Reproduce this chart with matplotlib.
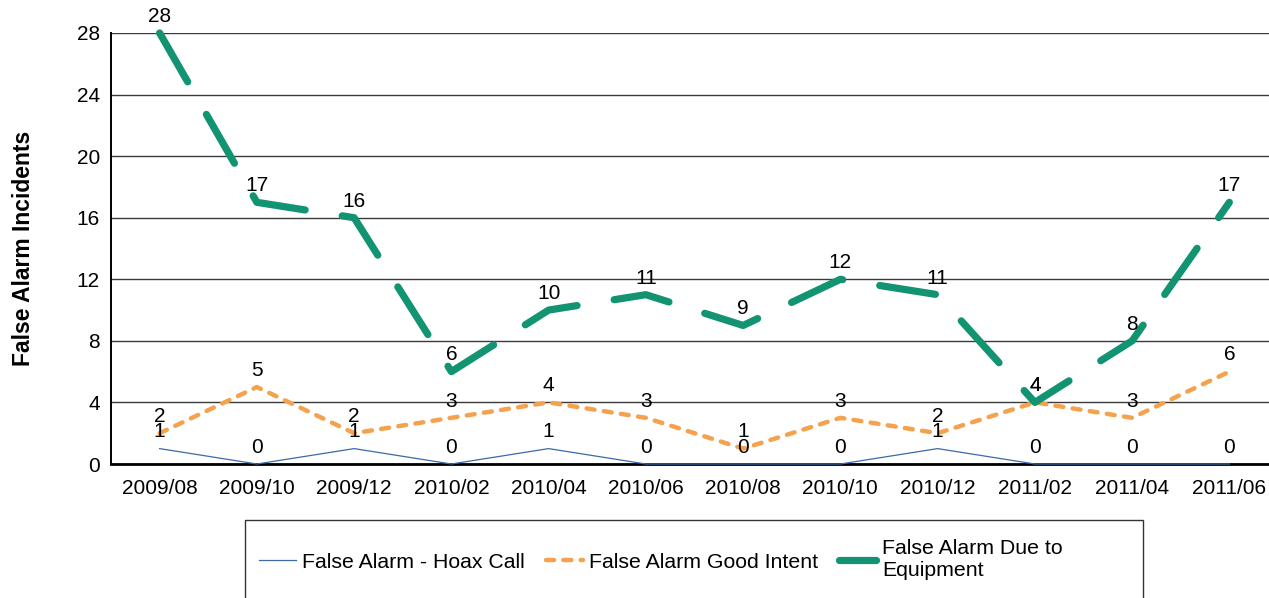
import matplotlib.pyplot as plt
from matplotlib.patches import Rectangle

plt.rcParams['font.family'] = ['Liberation Sans', 'DejaVu Sans']

months = ['2009/08', '2009/10', '2009/12', '2010/02', '2010/04', '2010/06',
          '2010/08', '2010/10', '2010/12', '2011/02', '2011/04', '2011/06']
hoax = [1, 0, 1, 0, 1, 0, 0, 0, 1, 0, 0, 0]
good_intent = [2, 5, 2, 3, 4, 3, 1, 3, 2, 4, 3, 6]
equipment = [28, 17, 16, 6, 10, 11, 9, 12, 11, 4, 8, 17]

fig = plt.figure(figsize=(12.69, 5.98), dpi=100)
ax = fig.add_axes([111 / 1269, 1 - 464 / 598, 1167 / 1269, 431 / 598])

x = range(len(months))
ax.plot(x, hoax, color='#3b6aa8', lw=0.9, label='False Alarm - Hoax Call',
        clip_on=False, zorder=3)
ax.plot(x, good_intent, color='#f5a24e', lw=3.2, dashes=(1.8, 2.1),
        dash_capstyle='round', label='False Alarm Good Intent',
        clip_on=False, zorder=4)
ax.plot(x, equipment, color='#129472', lw=5.2, dashes=(7.8, 5.2),
        dash_capstyle='round', label='False Alarm Due to\nEquipment',
        clip_on=False, zorder=5)

# data labels above points
for series in (hoax, good_intent, equipment):
    for i, v in enumerate(series):
        ax.annotate(str(v), (i, v), xytext=(0, 12), textcoords='offset points',
                    ha='center', va='center', fontsize=15, zorder=6,
                    annotation_clip=False)

ax.set_xlim(-0.5, 11.5)
ax.set_ylim(0, 28)
ax.set_yticks(range(0, 29, 4))
ax.set_xticks(list(x))
ax.set_xticklabels(months)
ax.tick_params(length=0, labelsize=15, pad=8)
ax.tick_params(axis='x', pad=11)
ax.yaxis.grid(True, color='#3a3a3a', lw=1)
ax.set_axisbelow(True)
for s in ('top', 'right'):
    ax.spines[s].set_visible(False)
ax.spines['left'].set_linewidth(1.4)
ax.spines['bottom'].set_linewidth(2)
ax.set_ylabel('False Alarm Incidents', fontsize=16.5, fontweight='bold',
              labelpad=30)

# legend box, cut off at the bottom like the original
fig.patches.append(Rectangle((245 / 1269, -0.05), 898 / 1269, 0.05 + 78 / 598,
                             transform=fig.transFigure, fill=False,
                             ec='#333333', lw=1))
fig.legend(loc='center left', bbox_to_anchor=(250 / 1269, 1 - 560 / 598),
           ncol=3, frameon=False, fontsize=15.3, handlelength=1.75,
           handletextpad=0.28, columnspacing=1.0, borderaxespad=0)

fig.savefig('out.png', dpi=100)
